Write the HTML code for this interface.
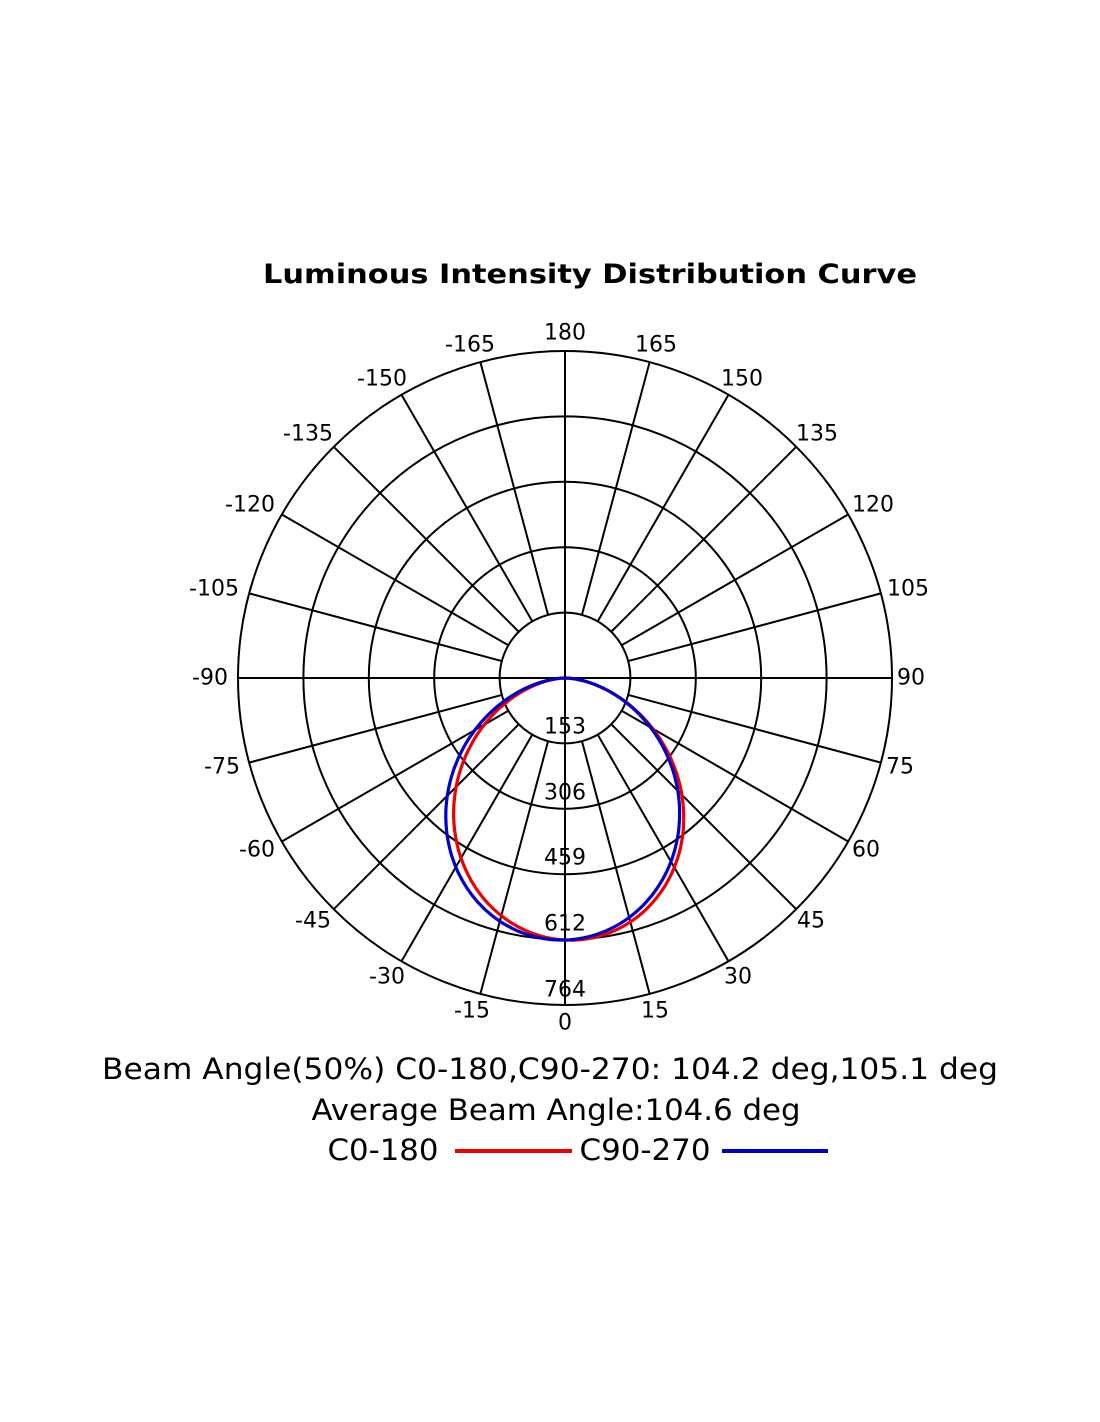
<!DOCTYPE html>
<html><head><meta charset="utf-8"><style>
html,body{margin:0;padding:0;background:#fff}
svg{display:block}
text{font-family:"DejaVu Sans","Liberation Sans",sans-serif;fill:#000}
</style></head><body>
<svg id="s" width="1100" height="1422" viewBox="0 0 1100 1422" xmlns="http://www.w3.org/2000/svg">
<text x="590" y="283" font-size="27" font-weight="bold" text-anchor="middle" textLength="654" lengthAdjust="spacingAndGlyphs">Luminous Intensity Distribution Curve</text>
<g id="grid" fill="none" stroke="#000" stroke-width="2"></g>
<g id="lab" font-size="22" text-anchor="middle" dominant-baseline="central"></g>
<g id="curves" fill="none" stroke-width="3.2"></g>
<text x="550" y="1079" font-size="29" text-anchor="middle" textLength="896" lengthAdjust="spacingAndGlyphs">Beam Angle(50%) C0-180,C90-270: 104.2 deg,105.1 deg</text>
<text x="556" y="1120" font-size="29" text-anchor="middle" textLength="489" lengthAdjust="spacingAndGlyphs">Average Beam Angle:104.6 deg</text>
<text x="383" y="1160" font-size="29" text-anchor="middle" textLength="111" lengthAdjust="spacingAndGlyphs">C0-180</text>
<line x1="455" y1="1151" x2="572" y2="1151" stroke="#e00" stroke-width="4"/>
<text x="645" y="1160" font-size="29" text-anchor="middle" textLength="131" lengthAdjust="spacingAndGlyphs">C90-270</text>
<line x1="722" y1="1151" x2="828" y2="1151" stroke="#00c" stroke-width="4"/>
</svg>
<script>
var NS="http://www.w3.org/2000/svg",cx=565,cy=678,R=327,r0=65.4;
function el(p,t,a,txt){var e=document.createElementNS(NS,t);for(var k in a)e.setAttribute(k,a[k]);if(txt!==undefined)e.textContent=txt;document.getElementById(p).appendChild(e);}
for(var i=1;i<=5;i++)el("grid","circle",{cx:cx,cy:cy,r:r0*i});
for(var a=-180;a<180;a+=15){var t=a*Math.PI/180,s=Math.sin(t),c=Math.cos(t);
 var ri=(a%90==0)?0:r0;
 el("grid","line",{x1:cx+ri*s,y1:cy+ri*c,x2:cx+R*s,y2:cy+R*c});}
var L=[["-165",470,345],["180",565,333],["165",656,345],["150",742,379],["135",817,434],["120",873,505],["105",908,589],["90",911,678],["75",900,767],["60",866,850],["45",811,921],["30",738,977],["15",655,1011],["0",565,1023],["-15",472,1011],["-30",387,977],["-45",313,921],["-60",257,850],["-75",222,767],["-90",210,678],["-105",214,589],["-120",250,505],["-135",308,434],["-150",382,379],["153",565,727],["306",565,793],["459",565,858],["612",565,924],["764",565,990]];
L.forEach(function(l){el("lab","text",{x:l[1],y:l[2]},l[0]);});
function curve(col,D,n,e){var d="";for(var a=-90;a<=90;a+=1){var t=a*Math.PI/180,c=Math.cos(t);var r=D*Math.pow(Math.max(c,0),n)*(1+e*Math.sin(t));
 var x=cx+r*Math.sin(t),y=cy+r*c;d+=(a==-90?"M":"L")+x.toFixed(1)+" "+y.toFixed(1);}
 el("curves","path",{d:d,stroke:col});}
curve("#e00",262,1.43,0.05);
curve("#00c",262,1.37,-0.03);
</script>
</body></html>
